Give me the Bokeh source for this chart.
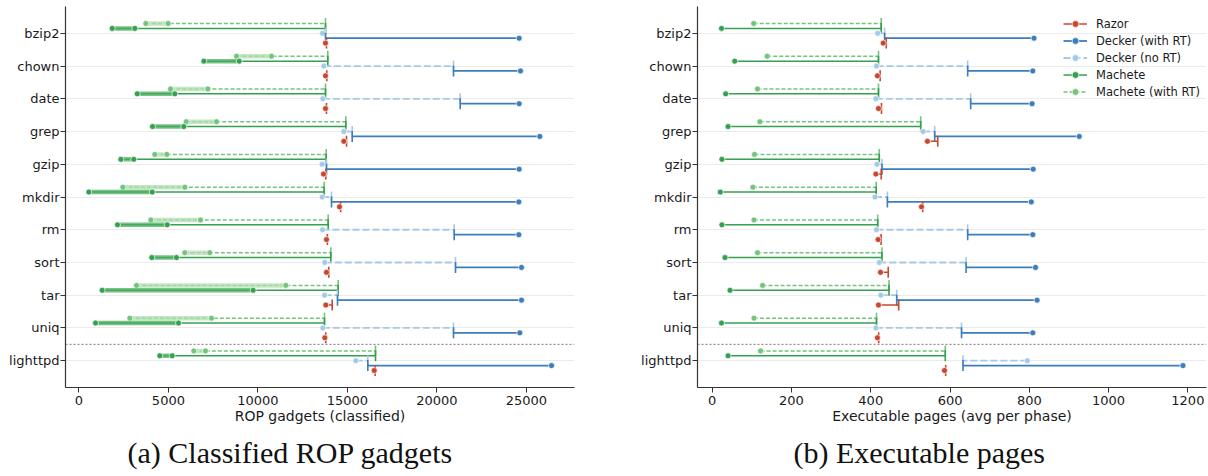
import numpy as np
from bokeh.plotting import figure
from bokeh.models import (ColumnDataSource, FactorRange, Range1d, Span, Legend,
                          LegendItem, Title, FixedTicker)
from bokeh.transform import dodge
from bokeh.layouts import row
from bokeh.embed import file_html
from bokeh.resources import INLINE

programs = ["bzip2", "chown", "date", "grep", "gzip", "mkdir", "rm", "sort",
            "tar", "uniq", "lighttpd"]

# ---- (a) classified ROP gadgets ----
gad_mrt_lo = [3740, 8805, 5117, 5994, 4240, 2455, 4017, 5916, 3218, 2845, 6419]
gad_mrt_hi = [4985, 10760, 7203, 7687, 4911, 5916, 6793, 7313, 11559, 7408, 7073]
gad_mrt_cap = [13777, 13905, 13777, 14911, 13815, 13702, 13927, 14073, 14486, 13720, 16570]
gad_m_lo = [1860, 6980, 3257, 4112, 2343, 553, 2156, 4073, 1300, 927, 4520]
gad_m_hi = [3125, 8955, 5358, 5860, 3067, 4095, 4933, 5452, 9737, 5564, 5212]
gad_m_cap = [13777, 13905, 13777, 14911, 13815, 13702, 13927, 14073, 14486, 13720, 16570]
gad_dn_dot = [13610, 13683, 13627, 14800, 13590, 13590, 13609, 13739, 13720, 13627, 15470]
gad_dn_cap = [13777, 20927, 21300, 15268, 13832, 14112, 20967, 21039, 14447, 20927, 16140]
gad_dr_cap = [13777, 20927, 21300, 15268, 13832, 14112, 20967, 21039, 14447, 20927, 16140]
gad_dr_dot = [24596, 24670, 24596, 25750, 24596, 24577, 24577, 24727, 24727, 24633, 26403]
gad_r_dot = [13777, 13777, 13777, 14800, 13665, 14559, 13832, 13832, 13795, 13739, 16497]
gad_r_cap = [13830, 13850, 13830, 14950, 13795, 14620, 13880, 13960, 14151, 13790, 16550]
gad_ticks = [0, 5000, 10000, 15000, 20000, 25000]

# ---- (b) executable pages ----
pg_mrt_dot = [104.7, 138.7, 114.3, 120.3, 106.7, 102.7, 105.5, 114.3, 127, 105.5, 122]
pg_mrt_cap = [426.3, 419.5, 419.5, 526, 421.5, 413.7, 417.5, 428.4, 446, 414.5, 588]
pg_m_dot = [23.5, 56.8, 34, 40, 24.5, 20.4, 24.5, 32.3, 45, 23.5, 40]
pg_m_cap = [426.3, 419.5, 419.5, 526, 421.5, 413.7, 417.5, 428.4, 446, 414.5, 588]
pg_dn_dot = [417.5, 414.5, 412.8, 532, 415.7, 410.7, 414.5, 421.5, 425.4, 412.8, 795]
pg_dn_cap = [435, 644.5, 652, 561.3, 428.4, 442, 644.5, 640.5, 465.5, 629, 632.7]
pg_dr_cap = [435, 644.5, 652, 561.3, 428.4, 442, 644.5, 640.5, 465.5, 629, 632.7]
pg_dr_dot = [811.8, 808.8, 807, 926, 809.8, 805, 808.8, 815.6, 819.6, 808.8, 1187.6]
pg_r_dot = [431.4, 416.8, 419.5, 543, 412.8, 528, 418.5, 424.6, 419.5, 416.8, 586]
pg_r_cap = [439, 423.6, 427, 569, 426.3, 531, 426, 444, 470.5, 420, 589]
pg_ticks = [0, 200, 400, 600, 800, 1000, 1200]

series_names = ["Razor", "Decker (with RT)", "Decker (no RT)", "Machete", "Machete (with RT)"]

C_RAZOR = "#c8472f"
C_DRT = "#3c7dbb"
C_DNRT = "#a6c9e6"
C_M = "#35a04f"
C_MRT = "#74c47c"
C_MBAND = "#4aae5f"
C_MRTBAND = "#b0deaf"

FONT = "DejaVu Sans"
H = 476


def make_panel(width, min_left, min_right, xr, ticks, xlabel, caption, cap_offset,
               d, legend_loc=None):
    p = figure(width=width, height=H,
               y_range=FactorRange(factors=programs[::-1], range_padding=0.0579),
               x_range=Range1d(*xr), output_backend="svg", toolbar_location=None,
               min_border_left=min_left, min_border_right=min_right,
               min_border_top=6, min_border_bottom=89)
    p.outline_line_color = None
    p.xgrid.visible = False
    p.ygrid.grid_line_color = "#ebebeb"
    p.ygrid.grid_line_width = 1.2

    yr = p.y_range
    renderers = {}

    def ycol(off):
        return dodge("prog", off, range=yr)

    specs = [
        # name, color, dash, lw, offset, dot key, cap key, band-end key, band colour
        ("Machete (with RT)", C_MRT, "4 2", 1.5, 0.3, "mrt_dot", "mrt_cap", "mrt_hi", C_MRTBAND),
        ("Machete", C_M, "solid", 1.5, 0.15, "m_dot", "m_cap", "m_hi", C_MBAND),
        ("Decker (no RT)", C_DNRT, "7 3", 1.8, 0.0, "dn_dot", "dn_cap", None, None),
        ("Decker (with RT)", C_DRT, "solid", 1.8, -0.15, "dr_dot", "dr_cap", None, None),
        ("Razor", C_RAZOR, "solid", 1.5, -0.3, "r_dot", "r_cap", None, None),
    ]
    src = ColumnDataSource(dict(prog=programs, **d))
    for name, col, dash, lw, off, kdot, kcap, khi, bandc in specs:
        seg = p.segment(x0=kdot, x1=kcap, y0=ycol(off), y1=ycol(off), source=src,
                        line_color=col, line_width=lw, line_dash=dash)
        if khi is not None and khi in d:
            p.segment(x0=kdot, x1=khi, y0=ycol(off), y1=ycol(off), source=src,
                      line_color=bandc, line_width=4.5, line_alpha=0.75)
            p.scatter(x=khi, y=ycol(off), source=src, size=6, fill_color=col,
                      line_color="white", line_width=0.7)
        p.scatter(x=kcap, y=ycol(off), source=src, marker="dash", angle=np.pi / 2,
                  size=11, line_color=col, line_width=1.6)
        dot = p.scatter(x=kdot, y=ycol(off), source=src, size=6, fill_color=col,
                        line_color="white", line_width=0.7)
        renderers[name] = [seg, dot]

    p.add_layout(Span(location=1.0, dimension="width", line_color="#777777",
                      line_dash="2 2", line_width=1.0))

    p.xaxis.ticker = FixedTicker(ticks=ticks)
    for ax in (p.xaxis, p.yaxis):
        ax.axis_line_color = "#333333"
        ax.axis_line_width = 1.2
        ax.major_tick_line_color = "#333333"
        ax.major_tick_out = 5
        ax.major_tick_in = 0
        ax.minor_tick_line_color = None
        ax.major_label_text_font = FONT
        ax.major_label_text_font_size = "13px"
        ax.major_label_text_color = "#1a1a1a"
    p.yaxis.major_label_standoff = 1
    p.xaxis.major_label_standoff = 3
    p.xaxis.axis_label = xlabel
    p.xaxis.axis_label_text_font = FONT
    p.xaxis.axis_label_text_font_size = "14px"
    p.xaxis.axis_label_text_font_style = "normal"
    p.xaxis.axis_label_text_color = "#1a1a1a"
    p.xaxis.axis_label_standoff = 0

    if legend_loc is not None:
        items = [LegendItem(label=n, renderers=renderers[n]) for n in series_names]
        lg = Legend(items=items, location=legend_loc, glyph_width=24, glyph_height=17,
                    label_height=17, spacing=0, label_standoff=9, padding=5, margin=0,
                    label_text_font=FONT, label_text_font_size="11.5px",
                    label_text_color="#1a1a1a", border_line_alpha=0,
                    background_fill_alpha=0)
        p.add_layout(lg, "center")

    p.add_layout(Title(text=caption, text_font="Liberation Serif", text_font_size="30px",
                       text_font_style="normal", text_color="#111111", align="left",
                       offset=cap_offset, standoff=15), "below")
    return p


dA = dict(mrt_dot=gad_mrt_lo, mrt_hi=gad_mrt_hi, mrt_cap=gad_mrt_cap,
          m_dot=gad_m_lo, m_hi=gad_m_hi, m_cap=gad_m_cap,
          dn_dot=gad_dn_dot, dn_cap=gad_dn_cap, dr_dot=gad_dr_dot, dr_cap=gad_dr_cap,
          r_dot=gad_r_dot, r_cap=gad_r_cap)
dB = dict(mrt_dot=pg_mrt_dot, mrt_cap=pg_mrt_cap, m_dot=pg_m_dot, m_cap=pg_m_cap,
          dn_dot=pg_dn_dot, dn_cap=pg_dn_cap, dr_dot=pg_dr_dot, dr_cap=pg_dr_cap,
          r_dot=pg_r_dot, r_cap=pg_r_cap)

pA = make_panel(610, 65, 36, (-749, 27687), gad_ticks, "ROP gadgets (classified)",
                "(a) Classified ROP gadgets", 62, dA)
pB = make_panel(598, 87, 2, (-37.1, 1247), pg_ticks, "Executable pages (avg per phase)",
                "(b) Executable pages", 96, dB, legend_loc=(361, 282))

layout = row(pA, pB)
open("out.html", "w").write(file_html(layout, INLINE))
